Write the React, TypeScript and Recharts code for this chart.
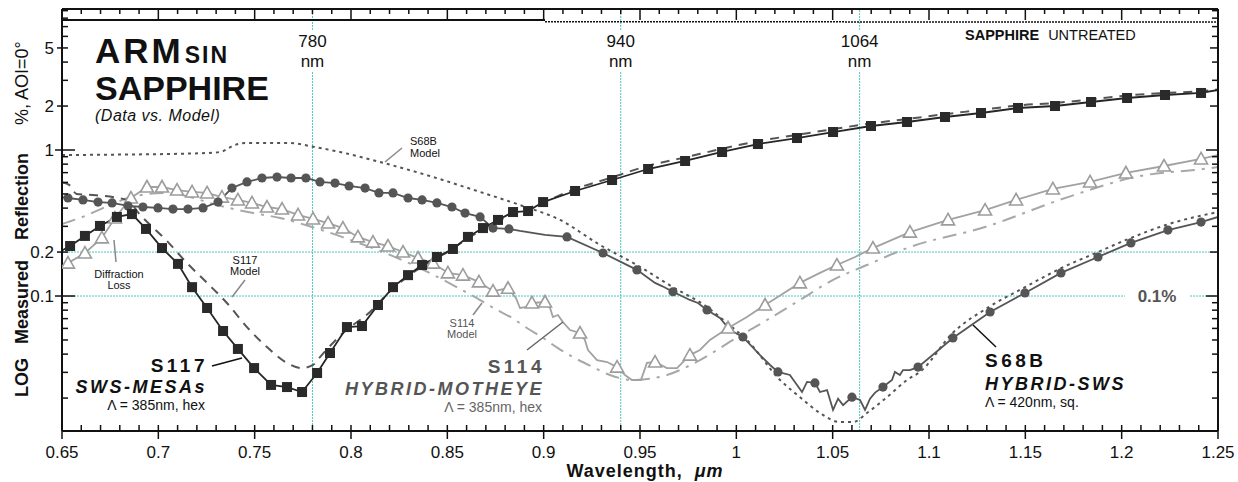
import React from 'react';
import { LineChart, Line, XAxis, YAxis, ReferenceLine } from 'recharts';

const W = 1238;
const H = 482;
const FONT = "'Liberation Sans', Arial, Helvetica, sans-serif";
const INK = '#111';
const TEAL = '#4cc7b8';

// plot box (px) and axis ranges
const PLOT = { left: 62, right: 1218, top: 9, bottom: 431 };
const X_MIN = 0.65;
const X_MAX = 1.25;
const Y_MIN = 0.0119;
const Y_MAX = 9.24;

// S117 SWS-MESAs: measured points (wavelength µm, reflection %)
const s117Wl = [0.6542, 0.6619, 0.6697, 0.6785, 0.6863, 0.6936, 0.7019, 0.7102, 0.7175, 0.7253, 0.7336, 0.7413, 0.7497, 0.7585, 0.7668, 0.7746, 0.7824, 0.7891, 0.7979, 0.8057, 0.814, 0.8218, 0.8296, 0.8369, 0.8446, 0.8529, 0.8607, 0.8685, 0.8763, 0.8841, 0.8919, 0.8997, 0.9163, 0.9355, 0.9542, 0.9734, 0.9926, 1.0112, 1.0315, 1.0502, 1.0699, 1.0886, 1.1083, 1.127, 1.1462, 1.1654, 1.1841, 1.2028, 1.2225, 1.2412];
const s117R = [0.22, 0.258, 0.302, 0.348, 0.364, 0.288, 0.213, 0.166, 0.115, 0.0828, 0.0576, 0.0434, 0.0321, 0.0246, 0.0238, 0.022, 0.0297, 0.0407, 0.0613, 0.0623, 0.0868, 0.115, 0.139, 0.163, 0.185, 0.21, 0.254, 0.292, 0.332, 0.376, 0.382, 0.44, 0.524, 0.623, 0.741, 0.841, 0.969, 1.099, 1.208, 1.328, 1.46, 1.555, 1.683, 1.792, 1.94, 2.001, 2.132, 2.271, 2.381, 2.458];
const s117TraceWl = [0.65, 1.25];
const s117TraceR = [0.205, 2.576];
const s117ModelWl = [0.65, 0.6535, 0.6576, 0.6676, 0.6837, 0.6905, 0.7045, 0.7149, 0.7253, 0.7356, 0.746, 0.7564, 0.7668, 0.7746, 0.7803, 0.7839, 0.7958, 0.81, 0.82, 0.83, 0.84, 0.85, 0.86, 0.87, 0.88, 0.89, 0.9, 0.9163, 0.9355, 0.9542, 0.9734, 0.9926, 1.0112, 1.0315, 1.0502, 1.0699, 1.0886, 1.1083, 1.127, 1.1462, 1.1654, 1.1841, 1.2028, 1.2225, 1.2412, 1.25];
const s117ModelR = [0.6, 0.58, 0.5, 0.49, 0.455, 0.36, 0.238, 0.168, 0.123, 0.0896, 0.0613, 0.0447, 0.0348, 0.0321, 0.0337, 0.0382, 0.0558, 0.078, 0.107, 0.138, 0.168, 0.2, 0.245, 0.295, 0.345, 0.39, 0.44, 0.54, 0.65, 0.78, 0.89, 1.02, 1.15, 1.27, 1.39, 1.52, 1.63, 1.76, 1.88, 2.02, 2.1, 2.22, 2.36, 2.46, 2.53, 2.6];

// S68B HYBRID-SWS
const s68bWl = [0.6531, 0.6609, 0.6687, 0.676, 0.6843, 0.692, 0.6998, 0.7076, 0.7154, 0.7232, 0.731, 0.7382, 0.746, 0.7538, 0.7616, 0.7689, 0.7766, 0.7839, 0.7917, 0.799, 0.8073, 0.8145, 0.8218, 0.8296, 0.8369, 0.8446, 0.8524, 0.8592, 0.867, 0.8737, 0.882, 0.9121, 0.9308, 0.9484, 0.9671, 0.9848, 1.0034, 1.0216, 1.0408, 1.06, 1.0761, 1.0943, 1.1124, 1.1317, 1.1498, 1.1685, 1.1877, 1.2048, 1.224, 1.2412];
const s68bR = [0.469, 0.455, 0.44, 0.434, 0.414, 0.407, 0.401, 0.394, 0.394, 0.401, 0.44, 0.549, 0.604, 0.643, 0.653, 0.643, 0.643, 0.604, 0.594, 0.567, 0.549, 0.508, 0.508, 0.469, 0.455, 0.434, 0.407, 0.37, 0.348, 0.292, 0.288, 0.254, 0.197, 0.151, 0.107, 0.0802, 0.0524, 0.0302, 0.0254, 0.0203, 0.0238, 0.0326, 0.0516, 0.0777, 0.105, 0.144, 0.185, 0.231, 0.283, 0.321];
const s68bTraceWl = [0.65, 0.8877, 0.9007, 0.9578, 0.9614, 0.9759, 0.9801, 0.9915, 0.9967, 1.0123, 1.0175, 1.0278, 1.0315, 1.0341, 1.0367, 1.0434, 1.0471, 1.0502, 1.0528, 1.0554, 1.0642, 1.0668, 1.0694, 1.072, 1.0808, 1.0823, 1.0849, 1.0865, 1.0901, 1.25];
const s68bTraceR = [0.476, 0.279, 0.262, 0.123, 0.117, 0.094, 0.0896, 0.0707, 0.0585, 0.0394, 0.0337, 0.0288, 0.0246, 0.022, 0.0258, 0.022, 0.0227, 0.0166, 0.0198, 0.0179, 0.0194, 0.0166, 0.0198, 0.0218, 0.0266, 0.0302, 0.0288, 0.0311, 0.0311, 0.348];
const s68bModelWl = [0.65, 0.68, 0.7216, 0.732, 0.7398, 0.745, 0.7683, 0.7803, 0.7943, 0.815, 0.8426, 0.867, 0.8877, 0.9085, 0.9292, 0.9484, 0.9671, 0.9848, 0.9951, 1.0055, 1.0227, 1.033, 1.0434, 1.0538, 1.0606, 1.0678, 1.0782, 1.0886, 1.0953, 1.1124, 1.1317, 1.1498, 1.1685, 1.1877, 1.2048, 1.224, 1.25];
const s68bModelR = [0.924, 0.93, 0.95, 0.969, 1.082, 1.117, 1.117, 1.053, 0.969, 0.828, 0.653, 0.516, 0.42, 0.332, 0.224, 0.163, 0.115, 0.0841, 0.0653, 0.05, 0.0266, 0.0203, 0.0158, 0.0137, 0.0137, 0.0158, 0.0203, 0.0266, 0.0302, 0.056, 0.085, 0.115, 0.155, 0.2, 0.25, 0.31, 0.376];

// S114 HYBRID-MOTHEYE
const s114Wl = [0.6531, 0.6619, 0.6707, 0.6775, 0.6858, 0.6941, 0.7019, 0.7097, 0.7175, 0.7253, 0.733, 0.7413, 0.7486, 0.7564, 0.7642, 0.7725, 0.7803, 0.7881, 0.7958, 0.8036, 0.8114, 0.8192, 0.827, 0.8348, 0.8426, 0.8503, 0.8581, 0.8664, 0.8737, 0.8815, 0.8939, 0.9007, 0.9189, 0.9381, 0.9578, 0.9759, 0.9957, 1.0149, 1.033, 1.0522, 1.0709, 1.0901, 1.1099, 1.1291, 1.1452, 1.1643, 1.1836, 1.2022, 1.222, 1.2412];
const s114R = [0.168, 0.197, 0.25, 0.342, 0.469, 0.558, 0.558, 0.532, 0.516, 0.508, 0.476, 0.455, 0.434, 0.407, 0.394, 0.359, 0.337, 0.316, 0.292, 0.254, 0.234, 0.22, 0.2, 0.182, 0.168, 0.144, 0.139, 0.125, 0.108, 0.113, 0.0896, 0.091, 0.0558, 0.0326, 0.0353, 0.0394, 0.0604, 0.0868, 0.123, 0.163, 0.213, 0.274, 0.332, 0.388, 0.455, 0.541, 0.604, 0.696, 0.777, 0.868];
const s114TraceWl = [0.65, 0.8856, 0.8877, 0.8913, 0.9033, 0.9048, 0.9074, 0.91, 0.9137, 0.9214, 0.923, 0.9277, 0.9329, 0.9422, 0.9458, 0.9505, 0.9536, 0.964, 0.9692, 0.9811, 0.9863, 1.0055, 1.0227, 1.0434, 1.0616, 1.25];
const s114TraceR = [0.158, 0.0969, 0.0828, 0.0841, 0.0828, 0.0718, 0.0741, 0.0663, 0.0585, 0.05, 0.0427, 0.0364, 0.0353, 0.0288, 0.0266, 0.0266, 0.0348, 0.0321, 0.0321, 0.0427, 0.05, 0.0718, 0.101, 0.144, 0.185, 0.924];
const s114ModelWl = [0.65, 0.6619, 0.6749, 0.6879, 0.7035, 0.7336, 0.7465, 0.7632, 0.7798, 0.7953, 0.8358, 0.8498, 0.8592, 0.867, 0.8758, 0.8836, 0.8913, 0.8997, 0.9074, 0.9152, 0.9256, 0.9344, 0.9464, 0.964, 0.9811, 0.9983, 1.0159, 1.033, 1.0502, 1.0678, 1.0886, 1.1291, 1.1721, 1.2069, 1.2464, 1.25];
const s114ModelR = [0.311, 0.353, 0.42, 0.484, 0.508, 0.41, 0.376, 0.342, 0.297, 0.254, 0.155, 0.125, 0.107, 0.0939, 0.0802, 0.0707, 0.0604, 0.0516, 0.044, 0.0382, 0.0326, 0.0288, 0.0266, 0.0288, 0.0364, 0.05, 0.0685, 0.0939, 0.129, 0.163, 0.213, 0.297, 0.476, 0.653, 0.753, 0.765];

// untreated sapphire reference
const sapphireWl = [0.65, 0.9007];
const sapphireR = [7.77, 7.77];
const sapphire2Wl = [0.9007, 1.25];
const sapphire2R = [7.56, 7.52];

// laser lines
const laserWl = [0.78, 0.94, 1.064];
const laserLabels = ['780', '940', '1064'];

// axis ticks
const xMajorTicks = [0.65, 0.7, 0.75, 0.8, 0.85, 0.9, 0.95, 1, 1.05, 1.1, 1.15, 1.2, 1.25];
const xTicks = Array.from({ length: 61 }, (_, i) => (65 + i) / 100);
const yTicks = [0.02, 0.03, 0.04, 0.05, 0.06, 0.07, 0.08, 0.09, 0.1, 0.2, 0.3, 0.4, 0.5, 0.6, 0.7, 0.8, 0.9, 1, 2, 3, 4, 5, 6, 7, 8, 9];
const yLabelTicks = [0.1, 0.2, 1, 2, 5];
const yLongTicks = [0.1, 1];

type Pt = { wl: number; r: number };
const pts = (wl: number[], r: number[]): Pt[] => wl.map((w, i) => ({ wl: w, r: r[i] }));
const merged = (a: Pt[], b: Pt[]): Pt[] => [...a, ...b].sort((p, q) => p.wl - q.wl);

const s117Marks = pts(s117Wl, s117R);
const s117Line = merged(s117Marks, pts(s117TraceWl, s117TraceR));
const s117Model = pts(s117ModelWl, s117ModelR);
const s68bMarks = pts(s68bWl, s68bR);
const s68bLine = merged(s68bMarks, pts(s68bTraceWl, s68bTraceR));
const s68bModel = pts(s68bModelWl, s68bModelR);
const s114Marks = pts(s114Wl, s114R);
const s114Line = merged(s114Marks, pts(s114TraceWl, s114TraceR));
const s114Model = pts(s114ModelWl, s114ModelR);
const sapphire = pts(sapphireWl, sapphireR);
const sapphire2 = pts(sapphire2Wl, sapphire2R);

const xPx = (wl: number) => PLOT.left + ((wl - X_MIN) / (X_MAX - X_MIN)) * (PLOT.right - PLOT.left);

// markers
const square = (p: any) => (
  <rect key={`sq${p.index}`} x={p.cx - 5} y={p.cy - 5} width={10} height={10} fill="#2a2a2a" />
);
const circle = (p: any) => <circle key={`ci${p.index}`} cx={p.cx} cy={p.cy} r={4.6} fill="#555" />;
const triangle = (p: any) => (
  <polygon
    key={`tr${p.index}`}
    points={`${p.cx},${p.cy - 6.5} ${p.cx - 6.5},${p.cy + 5} ${p.cx + 6.5},${p.cy + 5}`}
    fill="#fff"
    stroke="#9c9c9c"
    strokeWidth={1.6}
  />
);

// axis ticks: drawn by hand so major/minor lengths differ
const BottomTick = ({ x, y, payload }: any) => {
  const v = payload.value;
  const major = xMajorTicks.includes(v);
  return (
    <g>
      <line x1={x} x2={x} y1={y - 6} y2={major ? y + 8 : y} stroke={INK} strokeWidth={1.5} />
      {major && (
        <text x={x} y={y + 27} textAnchor="middle" fontSize={17} fill={INK}>
          {String(+v.toFixed(2))}
        </text>
      )}
    </g>
  );
};
const TopTick = ({ x, y, payload }: any) => {
  const major = xMajorTicks.includes(payload.value);
  return <line x1={x} x2={x} y1={y} y2={y + (major ? 11 : 5)} stroke={INK} strokeWidth={1.5} />;
};
const LeftTick = ({ x, y, payload }: any) => {
  const v = payload.value;
  const long = yLongTicks.includes(v);
  const labeled = yLabelTicks.includes(v);
  const x1 = long ? x - 7 : labeled ? x - 5 : x;
  const x2 = long ? x + 13 : x + 6;
  return (
    <g>
      <line x1={x1} x2={x2} y1={y} y2={y} stroke={INK} strokeWidth={1.5} />
      {labeled && (
        <text x={x - 8} y={y + 6} textAnchor="end" fontSize={17} fill={INK}>
          {String(v)}
        </text>
      )}
    </g>
  );
};
const RightTick = ({ x, y, payload }: any) => {
  const v = payload.value;
  const len = yLongTicks.includes(v) ? 12 : yLabelTicks.includes(v) ? 8 : 6;
  return <line x1={x} x2={x - len} y1={y} y2={y} stroke={INK} strokeWidth={1.5} />;
};

const frame = { stroke: INK, strokeWidth: 2 };

export default function App() {
  return (
    <div style={{ position: 'absolute', left: 0, top: 0, width: W, height: H, background: '#fff', fontFamily: FONT }}>
      <LineChart width={W} height={H} margin={{ top: 0, right: 0, bottom: 0, left: 0 }}>
        <XAxis
          dataKey="wl"
          type="number"
          domain={[X_MIN, X_MAX]}
          allowDataOverflow
          ticks={xTicks}
          interval={0}
          height={51}
          tickSize={0}
          tickMargin={0}
          tickLine={false}
          axisLine={frame}
          tick={BottomTick}
        />
        <XAxis
          xAxisId="top"
          orientation="top"
          dataKey="wl"
          type="number"
          domain={[X_MIN, X_MAX]}
          allowDataOverflow
          ticks={xTicks}
          interval={0}
          height={9}
          tickSize={0}
          tickMargin={0}
          tickLine={false}
          axisLine={frame}
          tick={TopTick}
        />
        <YAxis
          type="number"
          scale="log"
          domain={[Y_MIN, Y_MAX]}
          allowDataOverflow
          ticks={yTicks}
          interval={0}
          width={62}
          tickSize={0}
          tickMargin={0}
          tickLine={false}
          axisLine={frame}
          tick={LeftTick}
        />
        <YAxis
          yAxisId="right"
          orientation="right"
          type="number"
          scale="log"
          domain={[Y_MIN, Y_MAX]}
          allowDataOverflow
          ticks={yTicks}
          interval={0}
          width={20}
          tickSize={0}
          tickMargin={0}
          tickLine={false}
          axisLine={frame}
          tick={RightTick}
        />

        {/* teal guide lines */}
        <ReferenceLine y={0.2} stroke={TEAL} strokeDasharray="2 1" strokeWidth={1} />
        <ReferenceLine segment={[{ x: X_MIN, y: 0.1 }, { x: 1.2017, y: 0.1 }]} stroke={TEAL} strokeDasharray="2 1" strokeWidth={1} />
        <ReferenceLine segment={[{ x: 1.2355, y: 0.1 }, { x: X_MAX, y: 0.1 }]} stroke={TEAL} strokeDasharray="2 1" strokeWidth={1} />
        {laserWl.map((wl) => (
          <ReferenceLine key={`a${wl}`} segment={[{ x: wl, y: 9.1 }, { x: wl, y: 6.64 }]} stroke={TEAL} strokeDasharray="2 1" strokeWidth={1} />
        ))}
        {laserWl.map((wl) => (
          <ReferenceLine key={`b${wl}`} segment={[{ x: wl, y: 3.42 }, { x: wl, y: Y_MIN }]} stroke={TEAL} strokeDasharray="2 1" strokeWidth={1} />
        ))}

        {/* models */}
        <Line data={s114Model} dataKey="r" type="monotone" stroke="#a8a8a8" strokeWidth={2} strokeDasharray="14 7 3 7" dot={false} activeDot={false} isAnimationActive={false} />
        <Line data={s117Model} dataKey="r" type="monotone" stroke="#555" strokeWidth={2} strokeDasharray="9 7" dot={false} activeDot={false} isAnimationActive={false} />
        <Line data={s68bModel} dataKey="r" type="monotone" stroke="#555" strokeWidth={2} strokeDasharray="3 4" dot={false} activeDot={false} isAnimationActive={false} />

        {/* measured traces */}
        <Line data={s114Line} dataKey="r" type="linear" stroke="#a2a2a2" strokeWidth={1.8} dot={false} activeDot={false} isAnimationActive={false} />
        <Line data={s68bLine} dataKey="r" type="linear" stroke="#555" strokeWidth={1.8} dot={false} activeDot={false} isAnimationActive={false} />
        <Line data={s117Line} dataKey="r" type="linear" stroke="#262626" strokeWidth={1.8} dot={false} activeDot={false} isAnimationActive={false} />

        {/* markers */}
        <Line data={s114Marks} dataKey="r" stroke="none" dot={triangle} activeDot={false} isAnimationActive={false} />
        <Line data={s68bMarks} dataKey="r" stroke="none" dot={circle} activeDot={false} isAnimationActive={false} />
        <Line data={s117Marks} dataKey="r" stroke="none" dot={square} activeDot={false} isAnimationActive={false} />

        {/* untreated sapphire */}
        <Line data={sapphire} dataKey="r" type="linear" stroke={INK} strokeWidth={2} dot={false} activeDot={false} isAnimationActive={false} />
        <Line data={sapphire2} dataKey="r" type="linear" stroke={INK} strokeWidth={1.5} strokeDasharray="2 1" dot={false} activeDot={false} isAnimationActive={false} />
      </LineChart>

      <svg width={W} height={H} style={{ position: 'absolute', left: 0, top: 0, pointerEvents: 'none' }}>
        <g fill={INK}>
          <text x={95} y={63} fontSize={35} fontWeight="bold" letterSpacing={3}>
            ARM<tspan fontSize={23} letterSpacing={2} dx={1}>SIN</tspan>
          </text>
          <text x={95} y={100} fontSize={34} fontWeight="bold">SAPPHIRE</text>
          <text x={95} y={121} fontSize={16} fontStyle="italic" letterSpacing={0.5}>(Data vs. Model)</text>

          {laserWl.map((wl, i) => (
            <g key={laserLabels[i]}>
              <text x={xPx(wl)} y={47} textAnchor="middle" fontSize={17}>{laserLabels[i]}</text>
              <text x={xPx(wl)} y={67} textAnchor="middle" fontSize={17}>nm</text>
            </g>
          ))}

          <text x={965} y={40} fontSize={14.5}>
            <tspan fontWeight="bold">SAPPHIRE</tspan>
            <tspan dx={9}>UNTREATED</tspan>
          </text>

          <text x={410} y={145} fontSize={11}>S68B</text>
          <text x={410} y={157} fontSize={11}>Model</text>
          <text x={245} y={264} fontSize={11} textAnchor="middle">S117</text>
          <text x={245} y={275} fontSize={11} textAnchor="middle">Model</text>
          <text x={119} y={278} fontSize={11} textAnchor="middle">Diffraction</text>
          <text x={119} y={289} fontSize={11} textAnchor="middle">Loss</text>
          <text x={462} y={327} fontSize={11} textAnchor="middle" fill="#555">S114</text>
          <text x={462} y={338} fontSize={11} textAnchor="middle" fill="#555">Model</text>

          <text x={208} y={372} textAnchor="end" fontSize={19} fontWeight="bold" letterSpacing={3.5}>S117</text>
          <text x={207} y={393} textAnchor="end" fontSize={18} fontWeight="bold" fontStyle="italic" letterSpacing={2.5}>SWS-MESAs</text>
          <text x={205} y={410} textAnchor="end" fontSize={14}>Λ = 385nm, hex</text>

          <text x={545} y={373} textAnchor="end" fontSize={19} fontWeight="bold" letterSpacing={3.5} fill="#555">S114</text>
          <text x={544} y={395} textAnchor="end" fontSize={18} fontWeight="bold" fontStyle="italic" letterSpacing={2.5} fill="#555">HYBRID-MOTHEYE</text>
          <text x={542} y={412} textAnchor="end" fontSize={14} fill="#666">Λ = 385nm, hex</text>

          <text x={985} y={367} fontSize={19} fontWeight="bold" letterSpacing={3.5}>S68B</text>
          <text x={985} y={390} fontSize={18} fontWeight="bold" fontStyle="italic" letterSpacing={2.5}>HYBRID-SWS</text>
          <text x={985} y={407} fontSize={14}>Λ = 420nm, sq.</text>

          <text x={1157} y={302} textAnchor="middle" fontSize={17} fontWeight="bold" fill="#555">0.1%</text>

          <text x={645} y={477} textAnchor="middle" fontSize={18} fontWeight="bold" letterSpacing={1}>
            <tspan>Wavelength,</tspan>
            <tspan dx={12} fontStyle="italic">μm</tspan>
          </text>

          <text transform="translate(28,397) rotate(-90)" fontSize={18}>
            <tspan fontWeight="bold">LOG</tspan>
            <tspan dx={14} fontWeight="bold">Measured</tspan>
            <tspan dx={20} fontWeight="bold">Reflection</tspan>
            <tspan dx={28}>%,</tspan>
            <tspan dx={4}>AOI=0°</tspan>
          </text>
        </g>

        {/* leader lines */}
        <g strokeWidth={1.5} fill="none">
          <line x1={212} y1={366} x2={242} y2={358} stroke={INK} />
          <line x1={527} y1={350} x2={563} y2={322} stroke="#666" />
          <line x1={996} y1={347} x2={973} y2={325} stroke={INK} />
          <line x1={385} y1={162} x2={402} y2={148} stroke="#888" />
          <line x1={245} y1={280} x2={232} y2={297} stroke="#888" />
          <line x1={473} y1={315} x2={482} y2={303} stroke="#888" />
          <line x1={116} y1={262} x2={114} y2={240} stroke="#888" />
        </g>
      </svg>
    </div>
  );
}
